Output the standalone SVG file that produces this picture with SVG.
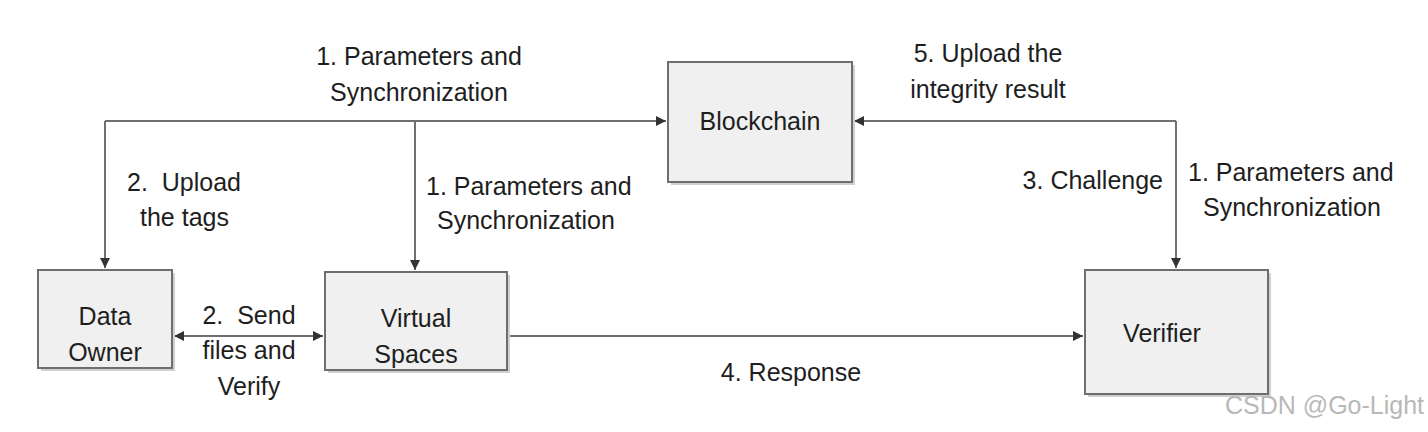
<svg xmlns="http://www.w3.org/2000/svg" width="1428" height="432" viewBox="0 0 1428 432">
<style>
.box{fill:#f0f0f0;stroke:#6e6e6e;stroke-width:2}
.sh{fill:#d0d0d0}
.ln{fill:none;stroke:#707070;stroke-width:2}
text{font-family:"Liberation Sans",Arial,sans-serif;font-size:25px;fill:#1e1e1e}
.c{text-anchor:middle}
.wm{fill:#b8b8b8;font-size:25px}
</style>
<defs>
<marker id="ah" viewBox="0 0 10 10" refX="10" refY="5" markerWidth="5" markerHeight="5" orient="auto-start-reverse" markerUnits="strokeWidth">
<path d="M0,0 L10,5 L0,10 z" fill="#333"/>
</marker>
</defs>
<rect width="1428" height="432" fill="#fff"/>
<g id="connectors">
<path class="ln" d="M105,121 H666" marker-end="url(#ah)"/>
<path class="ln" d="M105,121 V268" marker-end="url(#ah)"/>
<path class="ln" d="M415,121 V270" marker-end="url(#ah)"/>
<path class="ln" d="M174,336 H323" marker-start="url(#ah)" marker-end="url(#ah)"/>
<path class="ln" d="M507,336 H1083" marker-end="url(#ah)"/>
<path class="ln" d="M1176,121 H854" marker-end="url(#ah)"/>
<path class="ln" d="M1176,121 V268" marker-end="url(#ah)"/>
<text class="c" x="419" y="65">1. Parameters and</text>
<text class="c" x="419" y="101">Synchronization</text>
<text x="127" y="191" xml:space="preserve">2.  Upload</text>
<text x="140" y="226">the tags</text>
<text x="426" y="195">1. Parameters and</text>
<text x="437" y="229">Synchronization</text>
<text class="c" x="988" y="62">5. Upload the</text>
<text class="c" x="988" y="98">integrity result</text>
<text x="1163" y="189" text-anchor="end">3. Challenge</text>
<text x="1188" y="181">1. Parameters and</text>
<text x="1203" y="216">Synchronization</text>
<text class="c" x="249" y="324" xml:space="preserve">2.  Send</text>
<text class="c" x="249" y="359">files and</text>
<text class="c" x="249" y="395">Verify</text>
<text class="c" x="791" y="381">4. Response</text>
</g>
<g id="blockchain">
<rect class="sh" x="671" y="65" width="184" height="120"/>
<rect class="box" x="668" y="62" width="184" height="120"/>
<text class="c" x="760" y="130">Blockchain</text>
</g>
<g id="data-owner">
<rect class="sh" x="41" y="273" width="134" height="98"/>
<rect class="box" x="38" y="270" width="134" height="98"/>
<text class="c" x="105" y="325">Data</text>
<text class="c" x="105" y="361">Owner</text>
</g>
<g id="virtual-spaces">
<rect class="sh" x="328" y="275" width="182" height="98"/>
<rect class="box" x="325" y="272" width="182" height="98"/>
<text class="c" x="416" y="327">Virtual</text>
<text class="c" x="416" y="363">Spaces</text>
</g>
<g id="verifier">
<rect class="sh" x="1088" y="273" width="183" height="124"/>
<rect class="box" x="1085" y="270" width="183" height="124"/>
<text class="c" x="1162" y="342">Verifier</text>
</g>
<text class="wm" x="1225" y="414">CSDN @Go-Light</text>
</svg>
